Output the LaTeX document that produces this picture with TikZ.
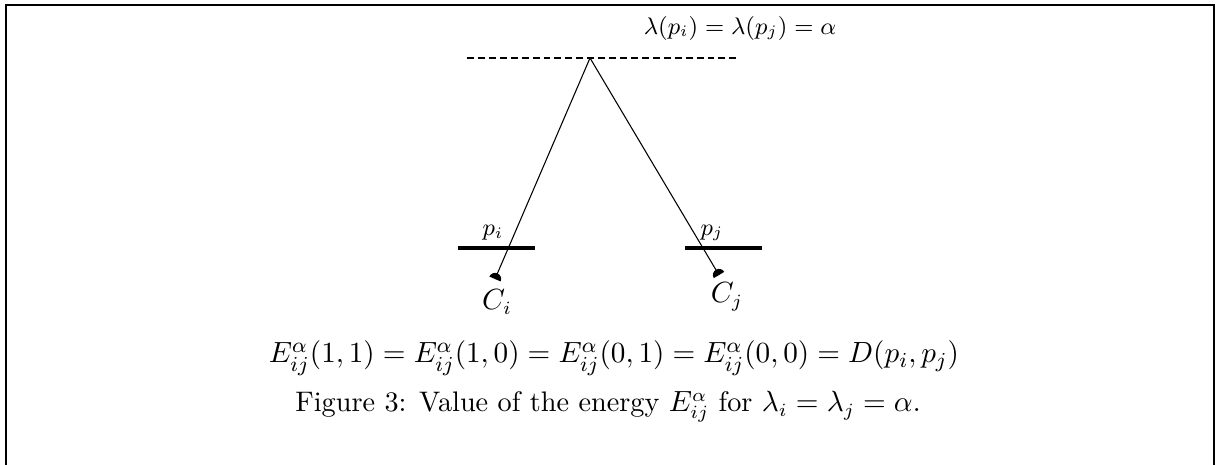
\documentclass[tikz,border=0pt]{standalone}
\usepackage{amssymb}
\usepackage{mathtools}
\usetikzlibrary{calc}

\tikzset{
  bar/.style={line width=1.2pt},
  ray/.style={line width=0.4pt},
  lab/.style={inner sep=0pt},
  small lab/.style={lab,font=\fontsize{8.7}{10}\selectfont},
}

\begin{document}
\begin{tikzpicture}[x=0.375pt,y=-0.375pt]
\useasboundingbox (0,0) rectangle (1223,464);
\draw[line width=1.1pt] (6,480) -- (6,5) -- (1214,5) -- (1214,480);

\coordinate (apex) at (590,58);
\coordinate (cam-i) at (495,279);
\coordinate (cam-j) at (719,275);

\draw[ray,dash pattern=on 2.6pt off 1.5pt] (467,58) -- (740,58);
\node[small lab] (lambda) at (740,28) {$\lambda(p_i)=\lambda(p_j)=\alpha$};

\draw[bar] (458,248) -- (535,248);
\draw[bar] (685,248) -- (762,248);
\node[small lab] (pi) at (493,233) {$p_i$};
\node[small lab] (pj) at (712,233) {$p_j$};

\path (apex) edge[ray] (cam-i)
      (apex) edge[ray] (cam-j);

\foreach \c in {i,j} {
  \path let \p1 = ($(apex)-(cam-\c)$), \n1 = {atan2(\y1,\x1)} in
    [fill] ($(cam-\c)+(\n1-90:2.3pt)$) arc[start angle=\n1-90,end angle=\n1+90,radius=2.3pt] -- cycle;
}

\node[lab,font=\fontsize{10.5}{12}\selectfont] (Ci) at (497,302) {$C_i$};
\node[lab,font=\fontsize{10.5}{12}\selectfont] (Cj) at (727,297) {$C_j$};

\node[lab,font=\fontsize{11.2}{13}\selectfont] (energy) at (614,358) {$E^\alpha_{ij}(1,1)=E^\alpha_{ij}(1,0)=E^\alpha_{ij}(0,1)=E^\alpha_{ij}(0,0)=D(p_i,p_j)$};
\node[lab,font=\fontsize{10.6}{13}\selectfont] (caption) at (608,407) {Figure 3: Value of the energy $E^\alpha_{ij}$ for $\lambda_i=\lambda_j=\alpha$.};
\end{tikzpicture}
\end{document}
